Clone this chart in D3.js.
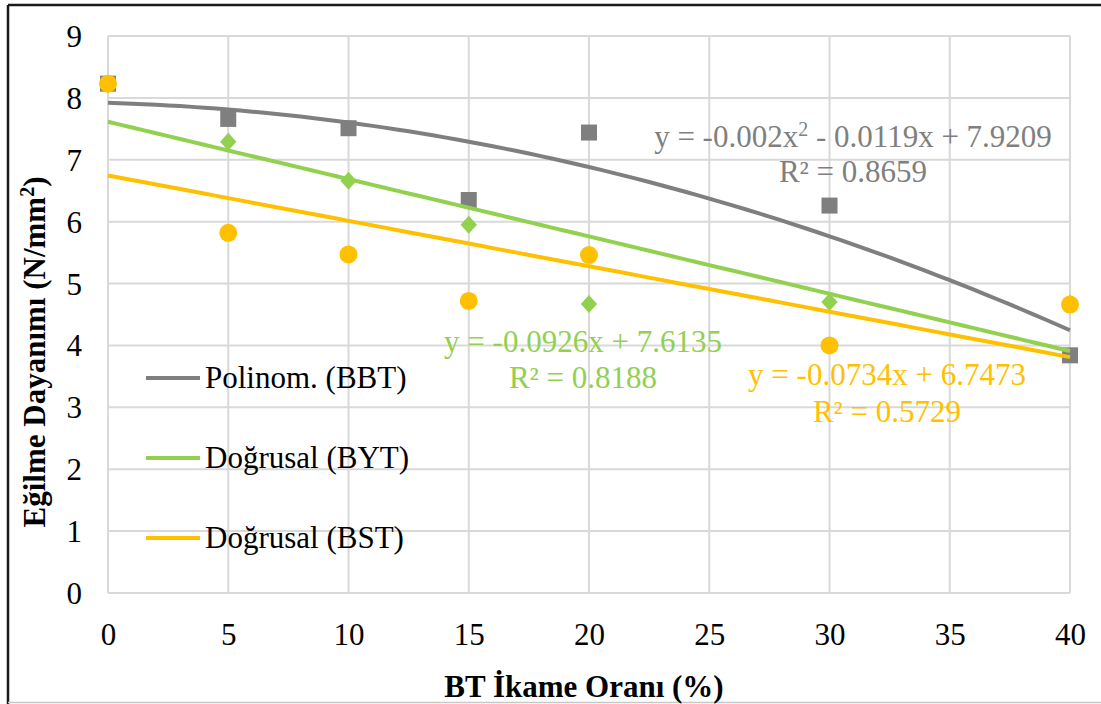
<!DOCTYPE html>
<html>
<head>
<meta charset="utf-8">
<script src="https://cdn.jsdelivr.net/npm/d3@7"></script>
</head>
<body style="margin:0">
<svg id="chart" width="1101" height="704" font-family="Liberation Serif"></svg>
<script>
// Replacement ratio (%) and flexural strength (N/mm²) of the three mixes
const ratios = [0, 5, 10, 15, 20, 30, 40];
const bbtValues = [8.23, 7.66, 7.51, 6.35, 7.44, 6.26, 3.84];
const bytValues = [8.23, 7.29, 6.66, 5.95, 4.67, 4.70, 4.68];
const bstValues = [8.23, 5.82, 5.47, 4.72, 5.46, 4.00, 4.66];

// Trendline coefficients [c0, c1, c2] for y = c0 + c1·x + c2·x²
const bbtFit = [7.9209, -0.0119, -0.002];
const bytFit = [7.6135, -0.0926, 0];
const bstFit = [6.7473, -0.0734, 0];

const xTicks = [0, 5, 10, 15, 20, 25, 30, 35, 40];
const yTicks = [0, 1, 2, 3, 4, 5, 6, 7, 8, 9];

const legendLabels = ["Polinom. (BBT)", "Doğrusal (BYT)", "Doğrusal (BST)"];

const colors = { bbt: "#7f7f7f", byt: "#92d050", bst: "#ffc000", grid: "#d9d9d9" };
const FONT = "Liberation Serif";

const svg = d3.select("#chart");
const W = 1101, H = 704;
const plot = { left: 108, right: 1070, top: 36, bottom: 593 };

const x = d3.scaleLinear().domain([0, 40]).range([plot.left, plot.right]);
const y = d3.scaleLinear().domain([0, 9]).range([plot.bottom, plot.top]);

// every label uses the same serif face
function serif(sel, size) {
  return sel.attr("font-family", FONT).attr("font-size", size)
    .style("font-family", FONT).style("font-size", size + "px");
}

// outer chart frame
svg.append("line").attr("x1", 8).attr("x2", W).attr("y1", 5).attr("y2", 5)
  .attr("stroke", "#1a1a1a").attr("stroke-width", 2.5);
svg.append("line").attr("x1", 8).attr("x2", 8).attr("y1", 5).attr("y2", H)
  .attr("stroke", "#1a1a1a").attr("stroke-width", 2.5);
svg.append("line").attr("x1", 8).attr("x2", W).attr("y1", 702.5).attr("y2", 702.5)
  .attr("stroke", "#c8c8c8").attr("stroke-width", 1.5);

// gridlines
const grid = svg.append("g");
grid.selectAll("line.h").data(yTicks).join("line").attr("class", "h")
  .attr("x1", plot.left).attr("x2", plot.right)
  .attr("y1", d => y(d)).attr("y2", d => y(d))
  .attr("stroke", colors.grid).attr("stroke-width", 2);
grid.selectAll("line.v").data(xTicks).join("line").attr("class", "v")
  .attr("y1", plot.top).attr("y2", plot.bottom)
  .attr("x1", d => x(d)).attr("x2", d => x(d))
  .attr("stroke", colors.grid).attr("stroke-width", 2);

// axes (labels only, no domain lines or tick marks)
const yAxis = svg.append("g").attr("transform", `translate(${plot.left - 26},0)`)
  .call(d3.axisLeft(y).tickValues(yTicks).tickSize(0).tickPadding(0));
yAxis.attr("font-family", FONT).attr("font-size", 31);
yAxis.select(".domain").remove();
serif(yAxis.selectAll("text"), 31).attr("fill", "#000").attr("dy", "0.34em");

const xAxis = svg.append("g").attr("transform", `translate(0,${plot.bottom})`)
  .call(d3.axisBottom(x).tickValues(xTicks).tickSize(0).tickPadding(0));
xAxis.attr("font-family", FONT).attr("font-size", 31);
xAxis.select(".domain").remove();
serif(xAxis.selectAll("text"), 31).attr("fill", "#000").attr("y", 52).attr("dy", 0);

// axis titles
serif(svg.append("text"), 31)
  .attr("x", (plot.left + plot.right) / 2 - 5).attr("y", 697)
  .attr("text-anchor", "middle").attr("font-weight", "bold")
  .text("BT İkame Oranı (%)");

const yTitle = serif(svg.append("text"), 31)
  .attr("transform", "translate(45,352) rotate(-90)")
  .attr("text-anchor", "middle").attr("font-weight", "bold");
yTitle.append("tspan").text("Eğilme Dayanımı (N/mm");
serif(yTitle.append("tspan"), 20).attr("baseline-shift", "super").text("2");
yTitle.append("tspan").text(")");

// markers
const pts = (vals) => ratios.map((r, i) => ({ r, v: vals[i] }));
const markers = svg.append("g");

markers.selectAll("rect.bbt").data(pts(bbtValues)).join("rect").attr("class", "bbt")
  .attr("x", d => x(d.r) - 8).attr("y", d => y(d.v) - 8)
  .attr("width", 16).attr("height", 16).attr("fill", colors.bbt);

const diamond = d3.symbol().type(d3.symbolDiamond2).size(170);
markers.selectAll("path.byt").data(pts(bytValues)).join("path").attr("class", "byt")
  .attr("d", diamond)
  .attr("transform", d => `translate(${x(d.r)},${y(d.v)}) scale(1,1.1)`)
  .attr("fill", colors.byt);

markers.selectAll("circle.bst").data(pts(bstValues)).join("circle").attr("class", "bst")
  .attr("cx", d => x(d.r)).attr("cy", d => y(d.v)).attr("r", 9)
  .attr("fill", colors.bst);

// trendlines evaluated from the displayed equations
const xs = d3.range(0, 40.0001, 0.5);
const line = d3.line().x(d => x(d[0])).y(d => y(d[1]));
const trend = (c) => xs.map(t => [t, c[0] + c[1] * t + c[2] * t * t]);

[[bstFit, colors.bst], [bytFit, colors.byt], [bbtFit, colors.bbt]].forEach(([c, col]) => {
  svg.append("path").attr("d", line(trend(c)))
    .attr("fill", "none").attr("stroke", col).attr("stroke-width", 4)
    .attr("stroke-linecap", "butt");
});

// trendline equations
function eqLabel(cx, y1, y2, col, first, second) {
  const g = svg.append("g").attr("fill", col);
  const t1 = serif(g.append("text"), 31).attr("x", cx).attr("y", y1).attr("text-anchor", "middle");
  first(t1);
  serif(g.append("text"), 31).attr("x", cx).attr("y", y2).attr("text-anchor", "middle").text(second);
}

eqLabel(853, 147, 182, colors.bbt, t => {
  t.append("tspan").text(`y = ${bbtFit[2]}x`);
  serif(t.append("tspan"), 20).attr("baseline-shift", "super").text("2");
  t.append("tspan").text(` - ${Math.abs(bbtFit[1])}x + ${bbtFit[0]}`);
}, "R² = 0.8659");

eqLabel(583, 352, 388, colors.byt, t => {
  t.text(`y = ${bytFit[1]}x + ${bytFit[0]}`);
}, "R² = 0.8188");

eqLabel(887, 385, 422, colors.bst, t => {
  t.text(`y = ${bstFit[1]}x + ${bstFit[0]}`);
}, "R² = 0.5729");

// legend
const legendColors = [colors.bbt, colors.byt, colors.bst];
const legend = svg.append("g");
legendLabels.forEach((lab, i) => {
  const ly = 378 + i * 80;
  legend.append("line").attr("x1", 146).attr("x2", 200).attr("y1", ly).attr("y2", ly)
    .attr("stroke", legendColors[i]).attr("stroke-width", 4);
  serif(legend.append("text"), 31).attr("x", 205).attr("y", ly + 10)
    .attr("fill", "#000").text(lab);
});
</script>
</body>
</html>
